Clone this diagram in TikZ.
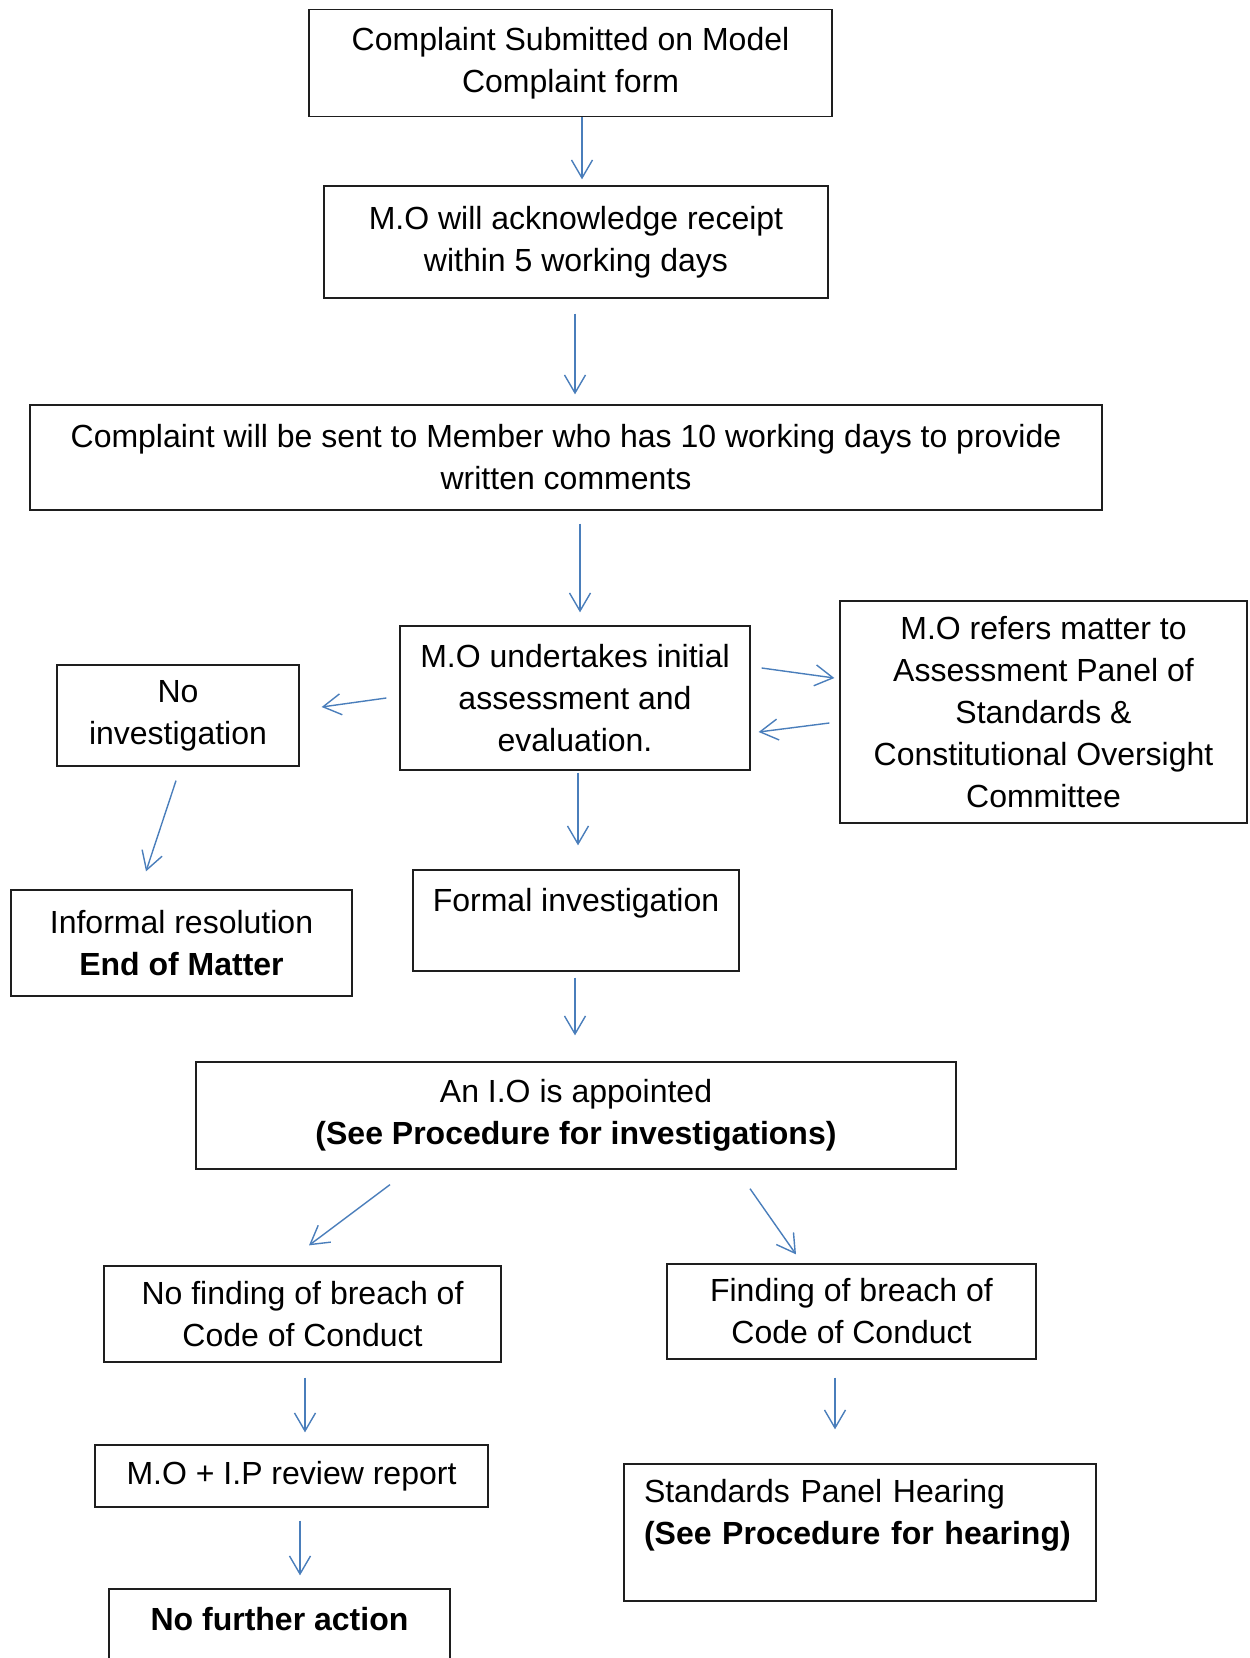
\documentclass[tikz,border=0pt]{standalone}
\usepackage{fontspec}
\setmainfont{Liberation Sans}
\usepackage{tikz}
\usetikzlibrary{arrows.meta}
\definecolor{arrowblue}{RGB}{74,126,187}
\definecolor{boxline}{RGB}{30,30,30}

\begin{document}
\begin{tikzpicture}[x=1pt, y=-1pt,
	box/.style={draw=boxline, line width=1.3pt, inner sep=0pt, align=center, font=\fontsize{32}{42}\selectfont},
	arr/.style={draw=arrowblue, line width=1.4pt, -{Straight Barb[length=18pt,width=21pt]}}]

	\useasboundingbox (0,0) rectangle (1250,1658);

	% top of the procedure
	\node[box, minimum width=523pt, minimum height=107pt] (submit) at (570.5,63) {Complaint Submitted on Model\\Complaint form};
	\node[box, minimum width=504pt, minimum height=112pt] (ack) at (576,242) {M.O will acknowledge receipt\\within 5 working days};
	\node[box, minimum width=1072pt, minimum height=105pt] (member) at (566,457.5) {Complaint will be sent to Member who has 10 working days to provide\\written comments};

	% assessment row
	\node[box, minimum width=350pt, minimum height=144pt] (assess) at (575,698) {M.O undertakes initial\\assessment and\\evaluation.};
	\node[box, minimum width=242pt, minimum height=101pt] (noinv) at (178,715.5) {No\\investigation};
	\node[box, minimum width=407pt, minimum height=222pt] (panel) at (1043.5,712) {M.O refers matter to\\Assessment Panel of\\Standards \&\\Constitutional Oversight\\Committee};

	\node[box, minimum width=341pt, minimum height=106pt] (informal) at (181.5,943) {Informal resolution\\\textbf{End of Matter}};
	\node[box, minimum width=326pt, minimum height=101pt] (formal) at (576,920.5) {Formal investigation\\\mbox{}};

	% investigation and outcomes
	\node[box, minimum width=760pt, minimum height=107pt] (io) at (576,1115.5) {An I.O is appointed\\\textbf{(See Procedure for investigations)}};
	\node[box, minimum width=397pt, minimum height=96pt] (nobreach) at (302.5,1314) {No finding of breach of\\Code of Conduct};
	\node[box, minimum width=369pt, minimum height=95pt] (breach) at (851.5,1311.5) {Finding of breach of\\Code of Conduct};
	\node[box, minimum width=393pt, minimum height=62pt] (review) at (291.5,1476) {M.O + I.P review report};
	\node[box, minimum width=341pt, minimum height=102pt] (noaction) at (279.5,1640) {\textbf{No further action}\\\mbox{}};
	\node[box, minimum width=472pt, minimum height=137pt, text width=432pt, align=left] (hearing) at (860,1532.5) {Standards Panel Hearing\\\textbf{(See Procedure for hearing)}\\\mbox{}};

	% connectors
	\draw[arr] ([xshift=11.5pt]submit.south) -- ([xshift=6pt,yshift=6pt]ack.north);
	\draw[arr] ([xshift=-1pt,yshift=-15pt]ack.south) -- ([xshift=9pt,yshift=10pt]member.north);
	\draw[arr] ([xshift=14pt,yshift=-13pt]member.south) -- ([xshift=5pt,yshift=13pt]assess.north);
	\draw[arr] ([xshift=-13pt]assess.west) -- ([xshift=22pt,yshift=8.5pt]noinv.east);
	\draw[arr] ([xshift=11pt,yshift=30pt]assess.east) -- ([xshift=-5pt,yshift=34pt]panel.west);
	\draw[arr] ([xshift=-10pt,yshift=-11pt]panel.west) -- ([xshift=8pt,yshift=-34pt]assess.east);
	\draw[arr] ([xshift=3pt,yshift=-2pt]assess.south) -- ([xshift=2pt,yshift=24pt]formal.north);
	\draw[arr] ([xshift=-2pt,yshift=-14pt]noinv.south) -- ([xshift=-35.5pt,yshift=18pt]informal.north);
	\draw[arr] ([xshift=-1pt,yshift=-6pt]formal.south) -- ([xshift=-1pt,yshift=26pt]io.north);
	\draw[arr] ([xshift=-186pt,yshift=-15pt]io.south) -- ([xshift=6.5pt,yshift=20pt]nobreach.north);
	\draw[arr] ([xshift=174pt,yshift=-19pt]io.south) -- ([xshift=-55.5pt,yshift=9pt]breach.north);
	\draw[arr] ([xshift=2.5pt,yshift=-15pt]nobreach.south) -- ([xshift=13.5pt,yshift=12pt]review.north);
	\draw[arr] ([xshift=-16.5pt,yshift=-18pt]breach.south) -- ([xshift=-25pt,yshift=34pt]hearing.north);
	\draw[arr] ([xshift=8.5pt,yshift=-13pt]review.south) -- ([xshift=20.5pt,yshift=13pt]noaction.north);

\end{tikzpicture}
\end{document}
